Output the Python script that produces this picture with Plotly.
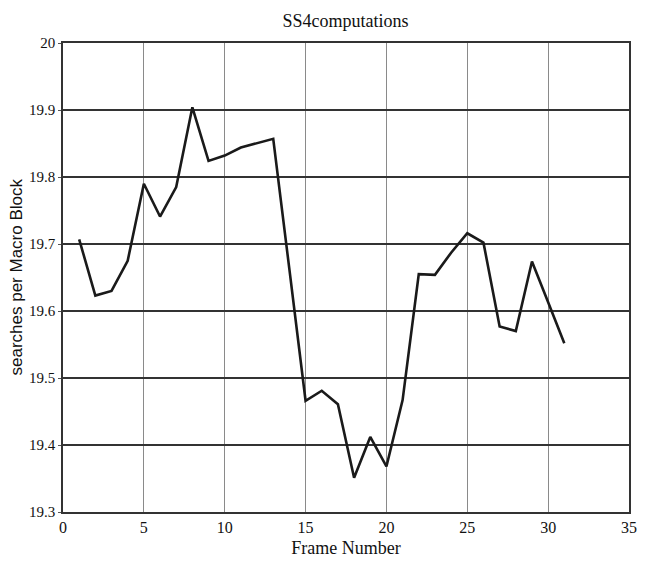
import plotly.graph_objects as go

frames = list(range(1, 32))
searches = [19.707, 19.623, 19.630, 19.675, 19.790, 19.741, 19.785, 19.904, 19.824, 19.832,
            19.844, 19.851, 19.857, 19.662, 19.466, 19.481, 19.461, 19.351, 19.412, 19.368,
            19.467, 19.655, 19.654, 19.687, 19.716, 19.702, 19.577, 19.570, 19.674, 19.613,
            19.552]
x_ticks = [0, 5, 10, 15, 20, 25, 30, 35]
y_ticks = [19.3, 19.4, 19.5, 19.6, 19.7, 19.8, 19.9, 20]

fig = go.Figure()
fig.add_trace(go.Scatter(x=frames, y=searches, mode="lines",
                         line=dict(color="#1a1a1a", width=2.6), showlegend=False))

serif = "Liberation Serif"
sans = "Liberation Sans"
fig.update_layout(
    width=646, height=563,
    margin=dict(l=63, r=17, t=43, b=51),
    paper_bgcolor="white", plot_bgcolor="white",
    font=dict(family=serif, size=16, color="#111"),
    title=dict(text="SS4computations", x=0.535, xanchor="center", y=0.963, yanchor="middle",
               font=dict(family=serif, size=18, color="#111")),
    xaxis=dict(range=[0, 35], tickvals=x_ticks, ticktext=[str(v) for v in x_ticks],
               showgrid=True, gridcolor="#8a8a8a", gridwidth=1,
               showline=True, linecolor="#333", linewidth=1.5, mirror=True,
               ticks="", zeroline=False, automargin=False,
               tickfont=dict(family=serif, size=16, color="#111"),
               title=dict(text="Frame Number", font=dict(family=serif, size=18, color="#111"), standoff=6)),
    yaxis=dict(range=[19.3, 20], tickvals=y_ticks, ticktext=[("%g" % v) for v in y_ticks],
               showgrid=True, gridcolor="#333", gridwidth=1.6,
               showline=True, linecolor="#333", linewidth=1.5, mirror=True,
               ticks="outside", ticklen=3, tickcolor="#555", zeroline=False, automargin=False,
               tickfont=dict(family=serif, size=15, color="#111")),
    annotations=[dict(text="searches per Macro Block", textangle=-90, showarrow=False,
                      xref="paper", yref="paper", x=(16 - 63) / 566, y=0.5,
                      xanchor="center", yanchor="middle",
                      font=dict(family=sans, size=17, color="#111"))],
)
fig.write_html("out.html")
